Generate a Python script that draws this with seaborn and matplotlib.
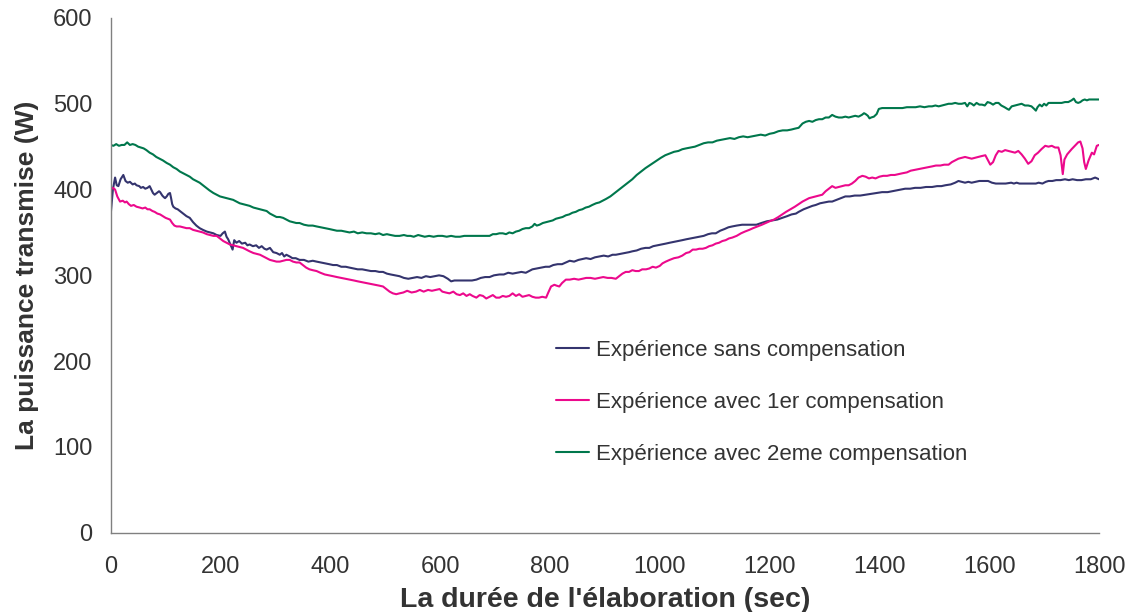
import matplotlib
matplotlib.use("Agg")
import matplotlib.pyplot as plt
import seaborn as sns
import pandas as pd

# Transmitted power (W) against elaboration time (s), one pair of lists per run
t_sans = [0, 4, 8, 11, 14, 18, 23, 27, 31, 35, 40, 44, 47, 52, 55, 59, 63, 67, 71, 74, 77,
          80, 84, 88, 90, 94, 97, 99, 102, 105, 108, 110, 112, 114, 118, 122, 126, 132, 138,
          144, 150, 156, 162, 168, 175, 181, 187, 193, 200, 204, 208, 211, 214, 218, 222,
          225, 229, 234, 239, 245, 249, 253, 259, 265, 270, 275, 280, 284, 290, 296, 302,
          308, 312, 316, 320, 326, 331, 337, 344, 352, 360, 368, 375, 383, 390, 398, 405,
          412, 420, 428, 435, 443, 450, 458, 466, 474, 482, 489, 496, 503, 510, 518, 526,
          534, 542, 550, 558, 566, 574, 582, 590, 598, 606, 614, 620, 626, 634, 642, 650,
          658, 666, 674, 682, 690, 698, 708, 716, 724, 732, 740, 748, 756, 762, 768, 776,
          784, 792, 799, 806, 814, 822, 829, 836, 844, 852, 859, 866, 874, 882, 890, 898,
          906, 914, 920, 928, 936, 944, 950, 958, 966, 974, 981, 988, 996, 1004, 1011, 1018,
          1026, 1034, 1041, 1048, 1056, 1064, 1072, 1080, 1088, 1095, 1102, 1110, 1118,
          1125, 1132, 1140, 1150, 1163, 1176, 1185, 1195, 1205, 1214, 1223, 1232, 1240,
          1248, 1253, 1262, 1270, 1278, 1284, 1292, 1300, 1308, 1314, 1322, 1330, 1338,
          1346, 1355, 1365, 1375, 1385, 1395, 1405, 1415, 1423, 1432, 1440, 1447, 1456,
          1465, 1475, 1485, 1496, 1505, 1513, 1520, 1530, 1538, 1544, 1550, 1556, 1562,
          1568, 1575, 1582, 1590, 1598, 1605, 1612, 1620, 1630, 1640, 1645, 1650, 1655,
          1665, 1677, 1685, 1690, 1697, 1703, 1708, 1715, 1722, 1730, 1738, 1745, 1752,
          1760, 1768, 1776, 1785, 1793, 1800]
p_sans = [371, 400, 414, 405, 404, 412, 417, 410, 408, 409, 406, 407, 405, 404, 402, 403,
          401, 402, 404, 400, 396, 394, 396, 398, 397, 393, 391, 390, 392, 395, 396, 390,
          383, 380, 378, 377, 375, 372, 369, 367, 362, 358, 355, 353, 351, 350, 349, 347,
          346, 349, 351, 345, 342, 336, 330, 341, 338, 340, 337, 338, 335, 336, 334, 335,
          332, 334, 331, 330, 332, 327, 326, 324, 326, 322, 324, 322, 320, 320, 318, 318,
          316, 317, 316, 315, 314, 313, 312, 312, 310, 310, 309, 308, 307, 307, 306, 305,
          305, 304, 304, 302, 301, 300, 299, 297, 296, 297, 298, 297, 299, 298, 299, 300,
          299, 296, 293, 294, 294, 294, 294, 294, 295, 297, 298, 298, 300, 301, 301, 303,
          302, 303, 304, 303, 305, 307, 308, 309, 310, 310, 312, 313, 313, 315, 317, 316,
          318, 319, 320, 319, 321, 322, 323, 322, 324, 324, 325, 326, 327, 328, 329, 331,
          332, 332, 334, 335, 336, 337, 338, 339, 340, 341, 342, 343, 344, 345, 346, 348,
          349, 349, 352, 354, 356, 357, 358, 359, 359, 359, 361, 363, 364, 365, 367, 369,
          371, 372, 374, 377, 379, 381, 382, 384, 385, 386, 386, 388, 390, 392, 392, 393,
          393, 394, 395, 396, 397, 397, 398, 399, 400, 401, 401, 402, 402, 403, 403, 404,
          404, 405, 406, 408, 410, 409, 408, 409, 408, 409, 410, 410, 410, 408, 407, 407,
          407, 408, 407, 408, 407, 407, 407, 407, 408, 407, 409, 410, 410, 411, 411, 412,
          411, 412, 411, 411, 412, 412, 414, 412]

t_comp1 = [0, 4, 8, 12, 17, 22, 26, 29, 33, 37, 42, 47, 53, 58, 63, 67, 71, 76, 80, 85, 90,
           95, 100, 104, 108, 112, 116, 120, 126, 132, 138, 144, 150, 156, 162, 168, 175,
           181, 187, 193, 199, 205, 211, 217, 223, 229, 235, 241, 247, 253, 260, 266, 272,
           278, 284, 290, 296, 302, 308, 314, 320, 326, 332, 338, 344, 350, 356, 362, 368,
           375, 382, 390, 398, 405, 412, 420, 428, 435, 443, 450, 458, 466, 474, 482, 489,
           496, 502, 508, 514, 520, 526, 533, 540, 548, 556, 563, 570, 578, 585, 592, 599,
           604, 610, 617, 624, 630, 636, 642, 648, 654, 659, 666, 672, 678, 684, 690, 696,
           702, 708, 714, 720, 726, 732, 738, 744, 750, 756, 762, 768, 774, 780, 786, 793,
           797, 802, 808, 812, 817, 822, 829, 836, 844, 852, 859, 866, 874, 882, 890, 897,
           905, 912, 920, 926, 932, 938, 944, 950, 956, 962, 968, 975, 981, 987, 993, 1000,
           1005, 1011, 1018, 1026, 1034, 1041, 1048, 1054, 1060, 1066, 1072, 1078, 1084,
           1090, 1096, 1102, 1108, 1114, 1120, 1126, 1132, 1140, 1148, 1155, 1163, 1170,
           1178, 1186, 1193, 1200, 1208, 1216, 1223, 1230, 1238, 1246, 1253, 1260, 1266,
           1272, 1278, 1284, 1290, 1296, 1302, 1308, 1314, 1320, 1326, 1332, 1338, 1344,
           1350, 1356, 1362, 1369, 1375, 1381, 1387, 1393, 1400, 1407, 1414, 1421, 1428,
           1435, 1442, 1450, 1457, 1465, 1472, 1480, 1488, 1496, 1503, 1511, 1518, 1526,
           1532, 1538, 1544, 1550, 1556, 1562, 1568, 1574, 1580, 1586, 1593, 1597, 1602,
           1607, 1612, 1617, 1623, 1629, 1635, 1641, 1647, 1653, 1659, 1665, 1671, 1677,
           1683, 1689, 1695, 1702, 1708, 1714, 1720, 1726, 1730, 1734, 1737, 1742, 1746,
           1750, 1756, 1762, 1766, 1770, 1773, 1776, 1781, 1787, 1791, 1796, 1800]
p_comp1 = [400, 402, 400, 392, 386, 387, 385, 386, 383, 381, 382, 380, 379, 378, 379, 377,
           377, 375, 374, 372, 371, 369, 367, 366, 365, 361, 358, 357, 357, 356, 355, 355,
           353, 352, 351, 350, 348, 347, 346, 346, 343, 340, 338, 336, 335, 334, 333, 332,
           330, 328, 326, 325, 324, 322, 320, 318, 317, 316, 316, 317, 318, 318, 316, 315,
           315, 312, 309, 307, 306, 305, 303, 301, 300, 299, 298, 297, 296, 295, 294, 293,
           292, 291, 290, 289, 288, 287, 284, 281, 279, 278, 279, 280, 282, 280, 281, 283,
           281, 283, 282, 283, 284, 281, 280, 279, 281, 278, 277, 279, 276, 278, 276, 274,
           277, 276, 273, 275, 277, 274, 274, 276, 275, 276, 279, 276, 278, 275, 276, 277,
           275, 274, 274, 275, 274, 280, 287, 289, 288, 287, 291, 295, 295, 296, 295, 296,
           297, 297, 296, 297, 298, 297, 297, 296, 299, 302, 304, 304, 306, 305, 305, 307,
           307, 308, 310, 309, 311, 314, 316, 318, 320, 321, 323, 326, 327, 330, 330, 331,
           331, 332, 334, 335, 337, 338, 340, 341, 343, 344, 346, 349, 351, 353, 355, 357,
           359, 361, 363, 365, 368, 371, 374, 377, 380, 383, 386, 388, 390, 391, 392, 393,
           394, 398, 401, 404, 402, 403, 404, 405, 405, 407, 410, 414, 416, 415, 413, 414,
           413, 415, 416, 416, 417, 417, 418, 419, 420, 422, 423, 424, 425, 426, 427, 428,
           428, 429, 429, 432, 434, 436, 437, 438, 437, 436, 437, 438, 439, 440, 435, 429,
           432, 440, 445, 444, 446, 445, 444, 443, 445, 441, 436, 430, 433, 440, 443, 447,
           451, 450, 451, 449, 449, 440, 418, 435, 441, 444, 447, 451, 455, 456, 448, 432,
           424, 434, 443, 441, 451, 452]

t_comp2 = [0, 5, 10, 15, 20, 25, 30, 35, 40, 45, 50, 55, 60, 65, 71, 77, 83, 89, 95, 102,
           108, 114, 120, 126, 132, 138, 144, 150, 156, 162, 168, 174, 180, 187, 193, 199,
           205, 211, 217, 223, 229, 235, 241, 247, 253, 260, 266, 272, 278, 284, 290, 296,
           302, 308, 314, 320, 326, 332, 338, 344, 352, 360, 368, 375, 383, 390, 398, 405,
           412, 420, 428, 435, 443, 450, 458, 466, 474, 482, 489, 496, 503, 510, 518, 526,
           534, 540, 546, 552, 560, 566, 572, 580, 588, 596, 604, 612, 620, 628, 636, 644,
           652, 660, 668, 676, 684, 690, 696, 702, 708, 714, 720, 726, 732, 738, 744, 750,
           756, 762, 768, 772, 776, 781, 787, 793, 799, 805, 811, 817, 823, 829, 835, 841,
           847, 853, 859, 865, 871, 877, 884, 890, 896, 902, 910, 918, 926, 934, 942, 950,
           958, 966, 974, 981, 988, 995, 1002, 1010, 1018, 1026, 1034, 1041, 1048, 1056,
           1064, 1072, 1080, 1088, 1096, 1104, 1112, 1120, 1128, 1136, 1144, 1152, 1160,
           1168, 1176, 1184, 1192, 1200, 1208, 1216, 1224, 1232, 1240, 1246, 1253, 1260,
           1266, 1272, 1278, 1284, 1290, 1296, 1302, 1308, 1314, 1320, 1326, 1332, 1338,
           1344, 1350, 1356, 1362, 1368, 1372, 1375, 1379, 1382, 1385, 1390, 1395, 1399,
           1405, 1412, 1420, 1428, 1435, 1442, 1450, 1458, 1466, 1474, 1482, 1490, 1496,
           1502, 1508, 1514, 1520, 1526, 1532, 1538, 1544, 1550, 1556, 1560, 1564, 1568,
           1572, 1577, 1582, 1587, 1592, 1597, 1602, 1607, 1612, 1617, 1622, 1628, 1633,
           1636, 1641, 1647, 1653, 1659, 1665, 1671, 1677, 1682, 1685, 1688, 1692, 1696,
           1700, 1704, 1708, 1714, 1720, 1726, 1732, 1738, 1744, 1750, 1754, 1758, 1762,
           1766, 1770, 1774, 1778, 1782, 1790, 1800]
p_comp2 = [452, 451, 453, 451, 452, 452, 455, 452, 453, 452, 450, 449, 448, 446, 443, 441,
           438, 436, 434, 431, 429, 426, 424, 421, 419, 417, 415, 412, 410, 408, 405, 402,
           399, 396, 394, 392, 391, 390, 389, 388, 386, 384, 383, 382, 381, 379, 378, 377,
           376, 375, 372, 370, 368, 368, 367, 365, 363, 362, 361, 361, 359, 358, 358, 357,
           356, 355, 354, 353, 352, 352, 351, 350, 351, 349, 350, 349, 349, 348, 349, 347,
           348, 347, 346, 346, 347, 346, 346, 345, 347, 346, 345, 346, 345, 346, 346, 345,
           346, 345, 345, 346, 346, 346, 346, 346, 346, 346, 348, 348, 349, 349, 348, 350,
           349, 351, 352, 354, 355, 355, 357, 360, 358, 359, 361, 362, 363, 364, 366, 367,
           368, 370, 371, 373, 374, 376, 377, 379, 380, 382, 384, 385, 387, 389, 392, 396,
           400, 404, 408, 412, 417, 421, 425, 428, 431, 434, 437, 440, 442, 444, 445, 447,
           448, 449, 450, 452, 454, 455, 455, 457, 458, 459, 460, 459, 461, 462, 461, 462,
           463, 464, 463, 465, 466, 468, 469, 469, 470, 471, 472, 477, 479, 480, 479, 481,
           482, 482, 484, 484, 487, 485, 484, 484, 485, 484, 485, 486, 485, 487, 489, 488,
           486, 483, 484, 485, 488, 494, 495, 495, 495, 495, 495, 495, 496, 496, 496, 497,
           496, 497, 497, 498, 497, 498, 499, 500, 500, 501, 500, 500, 501, 497, 501, 500,
           498, 501, 499, 499, 498, 502, 501, 499, 501, 501, 498, 496, 494, 493, 497, 498,
           499, 500, 498, 498, 497, 494, 492, 496, 499, 497, 500, 498, 501, 501, 501, 501,
           501, 502, 502, 504, 506, 502, 501, 502, 504, 505, 504, 505, 505, 505]

labels = ["Expérience sans compensation",
          "Expérience avec 1er compensation",
          "Expérience avec 2eme compensation"]
colors = ["#34346e", "#ec098c", "#00774c"]

frames = []
for lab, t, p in zip(labels, [t_sans, t_comp1, t_comp2], [p_sans, p_comp1, p_comp2]):
    frames.append(pd.DataFrame({"temps": t, "puissance": p, "serie": lab}))
df = pd.concat(frames, ignore_index=True)

sns.set_style("white")
plt.rcParams["font.family"] = ["Liberation Sans", "DejaVu Sans"]

fig = plt.figure(figsize=(11.33, 6.12), dpi=100)
ax = fig.add_axes([0.0977, 0.1296, 0.8723, 0.8410])

sns.lineplot(data=df, x="temps", y="puissance", hue="serie", hue_order=labels,
             palette=colors, linewidth=1.5, sort=False, estimator=None, ax=ax)

ax.set_xlim(0, 1800)
ax.set_ylim(0, 600)
ax.set_xticks(range(0, 1801, 200))
ax.set_yticks(range(0, 601, 100))

for side in ["top", "right"]:
    ax.spines[side].set_visible(False)
for side in ["left", "bottom"]:
    ax.spines[side].set_color("#808080")
    ax.spines[side].set_linewidth(1.0)

ax.tick_params(axis="both", which="major", direction="out", length=5, width=1,
               color="#808080", labelsize=17, labelcolor="#333333")
ax.tick_params(axis="x", pad=12)
ax.tick_params(axis="y", pad=8)

ax.set_xlabel("La durée de l'élaboration (sec)", fontsize=20.5, fontweight="bold",
              color="#333333", labelpad=6)
ax.set_ylabel("La puissance transmise (W)", fontsize=19, fontweight="bold",
              color="#333333", labelpad=10)

leg = ax.legend(loc="upper left", bbox_to_anchor=(0.4506, 0.375), frameon=False,
                borderaxespad=0, borderpad=0, fontsize=16, handlelength=1.5,
                handletextpad=0.3, labelspacing=1.4, labelcolor="#333333")
for line in leg.get_lines():
    line.set_linewidth(1.5)

fig.savefig("out.png", dpi=100)
